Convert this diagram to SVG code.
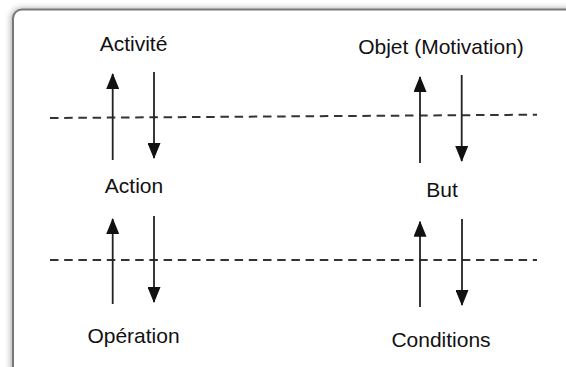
<svg xmlns="http://www.w3.org/2000/svg" width="566" height="367" viewBox="0 0 566 367">
  <style>
    .lbl { font-family: "Liberation Sans", Arial, sans-serif; font-size: 21px; fill: #111; text-anchor: middle; }
    .arrow { stroke: #222; stroke-width: 1.8; fill: none; }
    .dash { stroke: #333; stroke-width: 2; fill: none; stroke-dasharray: 8.5 5.7; }
  </style>
  <defs>
    <marker id="ah" viewBox="0 0 16 13" refX="15" refY="6.5" markerWidth="16" markerHeight="13" markerUnits="userSpaceOnUse" orient="auto">
      <path d="M0,0 L16,6.5 L0,13 Z" fill="#111"/>
    </marker>
    <filter id="sh" x="-5%" y="-5%" width="110%" height="110%">
      <feDropShadow dx="-1" dy="0" stdDeviation="3" flood-color="#000" flood-opacity="0.35"/>
    </filter>
  </defs>
  <rect width="566" height="367" fill="#fff"/>
  <rect id="frame" x="13" y="9.5" width="580" height="390" rx="9" ry="9" fill="#fff" stroke="#777" stroke-width="2" filter="url(#sh)"/>

  <g id="separators">
    <line class="dash" x1="50" y1="118" x2="537" y2="114.7"/>
    <line class="dash" x1="50" y1="260" x2="537" y2="260"/>
  </g>

  <g id="connectors">
    <line class="arrow" x1="112.7" y1="160" x2="112.7" y2="74" marker-end="url(#ah)"/>
    <line class="arrow" x1="154" y1="72" x2="154" y2="158" marker-end="url(#ah)"/>
    <line class="arrow" x1="420" y1="163" x2="420" y2="77" marker-end="url(#ah)"/>
    <line class="arrow" x1="461.7" y1="75" x2="461.7" y2="161" marker-end="url(#ah)"/>
    <line class="arrow" x1="112.7" y1="304" x2="112.7" y2="219" marker-end="url(#ah)"/>
    <line class="arrow" x1="154" y1="216" x2="154" y2="302" marker-end="url(#ah)"/>
    <line class="arrow" x1="420" y1="307" x2="420" y2="221.7" marker-end="url(#ah)"/>
    <line class="arrow" x1="462" y1="219" x2="462" y2="305" marker-end="url(#ah)"/>
  </g>

  <g id="activite"><text class="lbl" x="133.5" y="50.5">Activité</text></g>
  <g id="objet"><text class="lbl" x="441" y="53.5">Objet (Motivation)</text></g>
  <g id="action"><text class="lbl" x="134" y="193">Action</text></g>
  <g id="but"><text class="lbl" x="442" y="196.5">But</text></g>
  <g id="operation"><text class="lbl" x="133.5" y="343">Opération</text></g>
  <g id="conditions"><text class="lbl" x="441" y="346.5">Conditions</text></g>
</svg>
